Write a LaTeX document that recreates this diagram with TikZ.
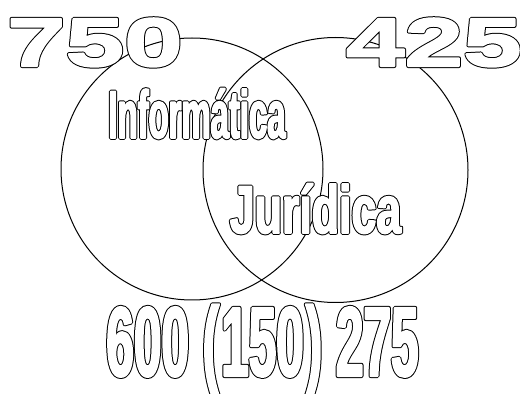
\documentclass[tikz,border=0pt]{standalone}
\usepackage{fontspec}
\setmainfont{Liberation Sans}
\newfontfamily\widefont[FakeStretch=1.54]{Liberation Sans Bold}
\newfontfamily\infofont[FakeStretch=0.485]{Liberation Sans Bold}
\newfontfamily\jurfont[FakeStretch=0.66]{Liberation Sans Bold}
\newfontfamily\numfont[FakeStretch=0.5]{Liberation Sans Bold}
% #1 = inner (white) stroke width, #2 = outer (black) stroke width, #3 = text
\newcommand{\heavyoutline}[3]{%
  \rlap{\color{black}\special{pdf:literal direct 2 Tr 1 j #2 w}#3\special{pdf:literal direct 0 Tr}}%
  {\color{white}\special{pdf:literal direct 2 Tr 1 j #1 w}#3\special{pdf:literal direct 0 Tr}}}
\tikzset{
  venn/.style={draw=black, line width=1pt},
  lbl/.style={inner sep=0pt, outer sep=0pt, anchor=base},
}
\begin{document}
\begin{tikzpicture}[x=1pt,y=1pt]
\useasboundingbox (0,0) rectangle (520,394);
\fill[white] (0,0) rectangle (520,394);
\draw[venn] (192,225) circle[radius=131];
\draw[venn] (335.5,224) circle[radius=132.5];
\node[lbl, anchor=base west] (n750) at (7,328) {\fontsize{68.4}{68.4}\widefont\heavyoutline{2}{4}{750}};
\node[lbl, anchor=base west] (n425) at (346,328) {\fontsize{68.4}{68.4}\widefont\heavyoutline{2}{4}{425}};
\node[lbl] (inf) at (197,256) {\fontsize{67.7}{67.7}\infofont\heavyoutline{1.5}{3.5}{Informática}};
\node[lbl] (jur) at (315.5,161) {\fontsize{67.7}{67.7}\jurfont\heavyoutline{1.5}{3.5}{Jurídica}};
\node[lbl] (nums) at (262.5,18) {\fontsize{99}{99}\numfont\heavyoutline{2}{4}{600 (\kern2pt150\kern2pt) 275}};
\end{tikzpicture}
\end{document}
